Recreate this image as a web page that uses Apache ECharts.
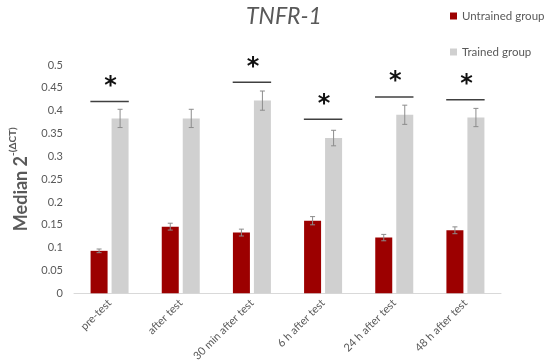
<!DOCTYPE html>
<html><head><meta charset="utf-8">
<script src="https://cdn.jsdelivr.net/npm/echarts@6/dist/echarts.min.js"></script>
<style>html,body{margin:0;padding:0;background:#fff}#c{width:550px;height:364px}</style>
</head><body><div id="c"></div>
<script>
const categories = ['pre-test','after test','30 min after test','6 h after test','24 h after test','48 h after test'];
const untrained = [0.093,0.146,0.133,0.159,0.122,0.138];
const untrainedErr = [0.004,0.0075,0.0075,0.009,0.007,0.0075];
const trained = [0.383,0.383,0.422,0.340,0.391,0.385];
const trainedErr = [0.02,0.02,0.021,0.017,0.021,0.02];
const sigLevel = [0.42,null,0.462,0.381,0.43,0.424];

const FONT = 'Lato';
const TXT = '#595959';
const BAR_W = 17, GAP = 4;
const OFF = (BAR_W + GAP) / 2;

function errSeries(vals, errs, dx) {
  return {
    type: 'custom', z: 5, silent: true,
    data: vals.map((v, i) => [i, v, errs[i]]),
    encode: {x: 0, y: 1},
    renderItem: function (params, api) {
      const i = api.value(0), v = api.value(1), e = api.value(2);
      const top = api.coord([i, v + e]);
      const bot = api.coord([i, v - e]);
      const x = top[0] + dx;
      const c = 2.5;
      const st = {stroke: '#8c8c8c', lineWidth: 1};
      return {type: 'group', children: [
        {type: 'line', shape: {x1: x, y1: top[1], x2: x, y2: bot[1]}, style: st},
        {type: 'line', shape: {x1: x - c, y1: top[1], x2: x + c, y2: top[1]}, style: st},
        {type: 'line', shape: {x1: x - c, y1: bot[1], x2: x + c, y2: bot[1]}, style: st}
      ]};
    }
  };
}

const chart = echarts.init(document.getElementById('c'));
chart.setOption({
  animation: false,
  textStyle: {fontFamily: FONT},
  title: {text: 'TNFR-1', left: 279, textAlign: 'center', top: 0,
    textStyle: {fontFamily: FONT, fontStyle: 'italic', fontWeight: 'normal', fontSize: 23, color: TXT}},
  legend: {orient: 'vertical', left: 450, top: 10, itemWidth: 7, itemHeight: 7, itemGap: 24,
    padding: 0, icon: 'rect', data: ['Untrained group', 'Trained group'],
    textStyle: {fontFamily: FONT, fontSize: 11.5, color: TXT, overflow: 'none'}},
  grid: {left: 68, right: 49, top: 65, bottom: 70, containLabel: false},
  xAxis: {type: 'category', data: categories,
    axisLine: {lineStyle: {color: '#d9d9d9', width: 1}},
    axisTick: {show: false},
    axisLabel: {rotate: 45, margin: 8, fontSize: 11, color: TXT, fontFamily: FONT, interval: 0}},
  yAxis: {type: 'value', min: 0, max: 0.5, interval: 0.05,
    axisLine: {show: false}, axisTick: {show: false}, splitLine: {show: false},
    axisLabel: {fontSize: 11, color: TXT, fontFamily: FONT, margin: 11,
      formatter: v => String(+v.toFixed(2))},
    name: '{a|Median 2}{b|-(ΔCT)}', nameLocation: 'middle', nameRotate: 90, nameGap: 44,
    nameTextStyle: {rich: {
      a: {fontFamily: FONT, fontSize: 18, fontWeight: 'bold', color: TXT, lineHeight: 22, verticalAlign: 'bottom'},
      b: {fontFamily: FONT, fontSize: 10, fontWeight: 'bold', color: TXT, lineHeight: 22, verticalAlign: 'top', padding: [0, 0, 8, 0]}
    }}},
  series: [
    {name: 'Untrained group', type: 'bar', data: untrained, barWidth: BAR_W, barGap: (GAP / BAR_W * 100) + '%',
      itemStyle: {color: '#9c0000'}},
    {name: 'Trained group', type: 'bar', data: trained, barWidth: BAR_W,
      itemStyle: {color: '#d0d0d0'}},
    errSeries(untrained, untrainedErr, -OFF),
    errSeries(trained, trainedErr, OFF),
    {type: 'custom', z: 6, silent: true,
      data: sigLevel.map((v, i) => [i, v]).filter(d => d[1] != null),
      encode: {x: 0, y: 1},
      renderItem: function (params, api) {
        const p = api.coord([api.value(0), api.value(1)]);
        const half = api.size([1, 0])[0] * 0.27;
        return {type: 'group', children: [
          {type: 'line', shape: {x1: p[0] - half, y1: p[1], x2: p[0] + half, y2: p[1]},
            style: {stroke: '#404040', lineWidth: 1.5}},
          {type: 'text', x: p[0] + 1, y: p[1] - 3,
            style: {text: '*', fontSize: 24, fontWeight: 'bold', fontFamily: 'DejaVu Sans', fill: '#111',
              align: 'center', verticalAlign: 'bottom'}}
        ]};
      }}
  ]
});
</script></body></html>
